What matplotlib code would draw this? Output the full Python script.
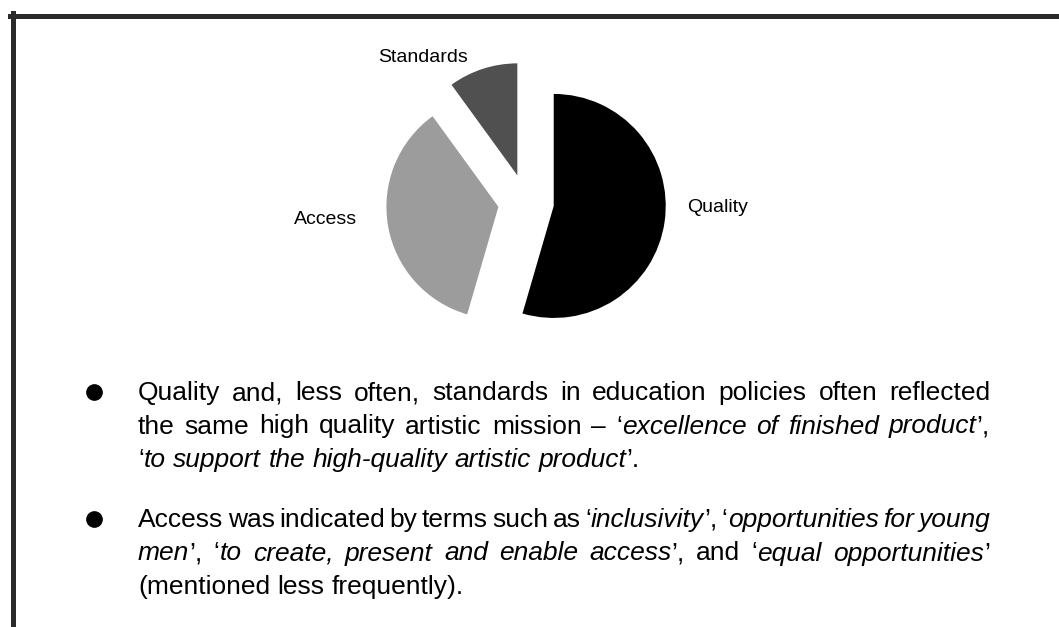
import matplotlib
matplotlib.use("Agg")
import matplotlib.pyplot as plt
from matplotlib.lines import Line2D

# pie data
categories = ["Quality", "Access", "Standards"]
shares = [54.5, 35.5, 10.0]
slice_colors = ["#000000", "#9c9c9c", "#505050"]

# bullet text, '*' switches italic on / off
bullet_1 = [
    "Quality and, less often, standards in education policies often reflected",
    "the same high quality artistic mission – ‘*excellence of finished product*’,",
    "‘*to support the high-quality artistic product*’.",
]
bullet_2 = [
    "Access was indicated by terms such as ‘*inclusivity*’, ‘*opportunities for young*",
    "*men*’, ‘*to create, present and enable access*’, and ‘*equal opportunities*’",
    "(mentioned less frequently).",
]

W, H = 1059, 627
FONT = "Liberation Sans"
BODY_FS = 19
LABEL_FS = 14

fig = plt.figure(figsize=(W / 100, H / 100), dpi=100)
renderer = fig.canvas.get_renderer()


def fx(px):
    return px / W


def fy(px):
    return 1 - px / H


# frame (top and left edge only)
fig.add_artist(Line2D([fx(10), 1], [fy(15.5), fy(15.5)], color="#2a2a2a", lw=3.6,
                      transform=fig.transFigure))
fig.add_artist(Line2D([fx(12.5), fx(12.5)], [fy(13), 0], color="#2a2a2a", lw=3.6,
                      transform=fig.transFigure))

# pie, centre at (526, 202) px, radius 112 px
cx, cy, r, half = 526, 202, 112, 170
ax = fig.add_axes([fx(cx - half), fy(cy + half), 2 * half / W, 2 * half / H])
ax.pie(shares, colors=slice_colors, startangle=90, counterclock=False,
       explode=[0.25] * len(shares), radius=1, wedgeprops=dict(linewidth=0))
lim = half / r
ax.set_xlim(-lim, lim)
ax.set_ylim(-lim, lim)
ax.set_aspect("equal")
ax.axis("off")

label_pos = {"Quality": (1.71, -0.05), "Access": (-1.79, -0.16), "Standards": (-0.92, 1.29)}
for name in categories:
    lx, ly = label_pos[name]
    ax.text(lx, ly, name, ha="center", va="center", fontsize=LABEL_FS, family=FONT)


def text_width(s, italic):
    t = fig.text(0, 0, s, fontsize=BODY_FS, family=FONT,
                 style="italic" if italic else "normal")
    w = t.get_window_extent(renderer).width
    t.remove()
    return w


def parse(line):
    words = []
    italic = False
    for word in line.split(" "):
        pieces = []
        for i, chunk in enumerate(word.split("*")):
            if i > 0:
                italic = not italic
            if chunk:
                pieces.append((chunk, italic))
        words.append(pieces)
    return words


SPACE = text_width("a a", False) - text_width("aa", False)
X0, X1 = 138, 990
LINE_H = 33.5


def draw_line(line, base, justify):
    words = parse(line)
    widths = [[text_width(s, it) for s, it in w] for w in words]
    total = sum(sum(w) for w in widths)
    gap = (X1 - X0 - total) / (len(words) - 1) if justify else SPACE
    x = X0
    for pieces, ws in zip(words, widths):
        for (s, it), w in zip(pieces, ws):
            fig.text(fx(x), fy(base), s, fontsize=BODY_FS, family=FONT,
                     style="italic" if it else "normal", va="baseline", ha="left")
            x += w
        x += gap


for lines, first_base in [(bullet_1, 400), (bullet_2, 527)]:
    fig.add_artist(Line2D([fx(94)], [fy(first_base - 8)], marker="o", ms=11,
                          color="black", transform=fig.transFigure))
    for i, line in enumerate(lines):
        draw_line(line, first_base + i * LINE_H, justify=i < len(lines) - 1)

fig.savefig("out.png", dpi=100)
